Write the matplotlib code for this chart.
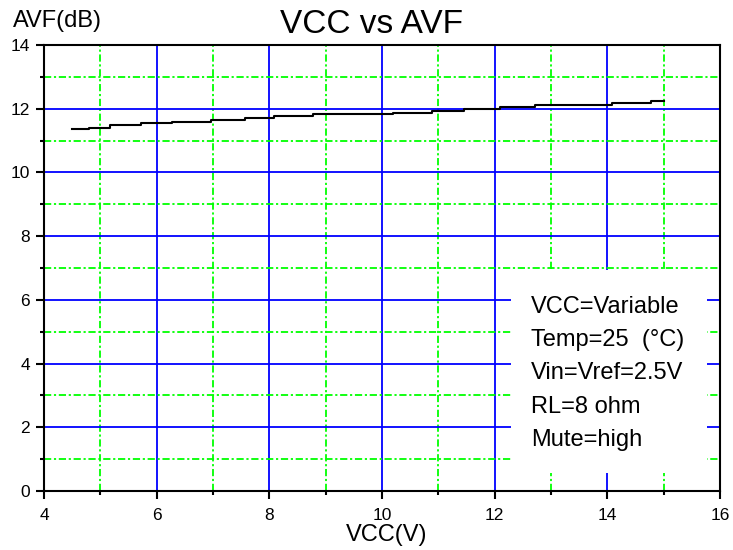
import matplotlib
matplotlib.use("Agg")
import matplotlib.pyplot as plt
from matplotlib.patches import Rectangle

plt.rcParams['font.family'] = ['Liberation Sans', 'DejaVu Sans']

# Data (step curve)
vcc = [4.49, 4.79, 5.17, 5.72, 6.28, 6.97, 7.56, 8.09, 8.78, 10.2, 10.88, 11.45, 12.1, 12.72, 14.09, 14.77, 15.0]
avf = [11.35, 11.41, 11.48, 11.54, 11.58, 11.64, 11.70, 11.76, 11.83, 11.87, 11.94, 12.00, 12.06, 12.11, 12.17, 12.23, 12.23]

x_major = [4, 6, 8, 10, 12, 14, 16]
x_minor = [5, 7, 9, 11, 13, 15]
y_major = [0, 2, 4, 6, 8, 10, 12, 14]
y_minor = [1, 3, 5, 7, 9, 11, 13]

notes = ["VCC=Variable", "Temp=25  (\u00b0C)", "Vin=Vref=2.5V", "RL=8 ohm", "Mute=high"]

fig = plt.figure(figsize=(7.33, 5.5), dpi=100)
ax = fig.add_axes([44/733, 1-491/550, 676/733, 446/550])

ax.set_xlim(4, 16)
ax.set_ylim(0, 14)
ax.set_xticks(x_major)
ax.set_xticks(x_minor, minor=True)
ax.set_yticks(y_major)
ax.set_yticks(y_minor, minor=True)

ax.set_axisbelow(True)
ax.grid(which='major', color='#0000ff', linewidth=1.3, linestyle='-')
ax.grid(which='minor', color='#00ff00', linewidth=1.3, linestyle=(0, (4, 1.5, 1.2, 1.5)))

for s in ax.spines.values():
    s.set_linewidth(1.5)
    s.set_color('black')

ax.tick_params(which='major', direction='out', length=6, width=1.5, labelsize=12.5, pad=4)
ax.tick_params(axis='x', which='major', pad=6)
ax.tick_params(which='minor', direction='out', length=3, width=1.5)

# white note box covering the grid
ax.add_patch(Rectangle((0.691, 0.040), 0.290, 0.456, transform=ax.transAxes,
                       facecolor='white', edgecolor='none', zorder=1))

ax.plot(vcc, avf, drawstyle='steps-post', color='black', linewidth=1.5, zorder=3)

for i, t in enumerate(notes):
    fig.text(531/733, 1-(307+i*33.2)/550, t, fontsize=17, ha='left', va='center')

fig.text(372/733, 1-33/550, "VCC vs AVF", fontsize=24, ha='center', va='baseline')
fig.text(13/733, 1-27/550, "AVF(dB)", fontsize=17, ha='left', va='baseline')
fig.text(387/733, 1-541/550, "VCC(V)", fontsize=17, ha='center', va='baseline')

fig.savefig("out.png", dpi=100)
